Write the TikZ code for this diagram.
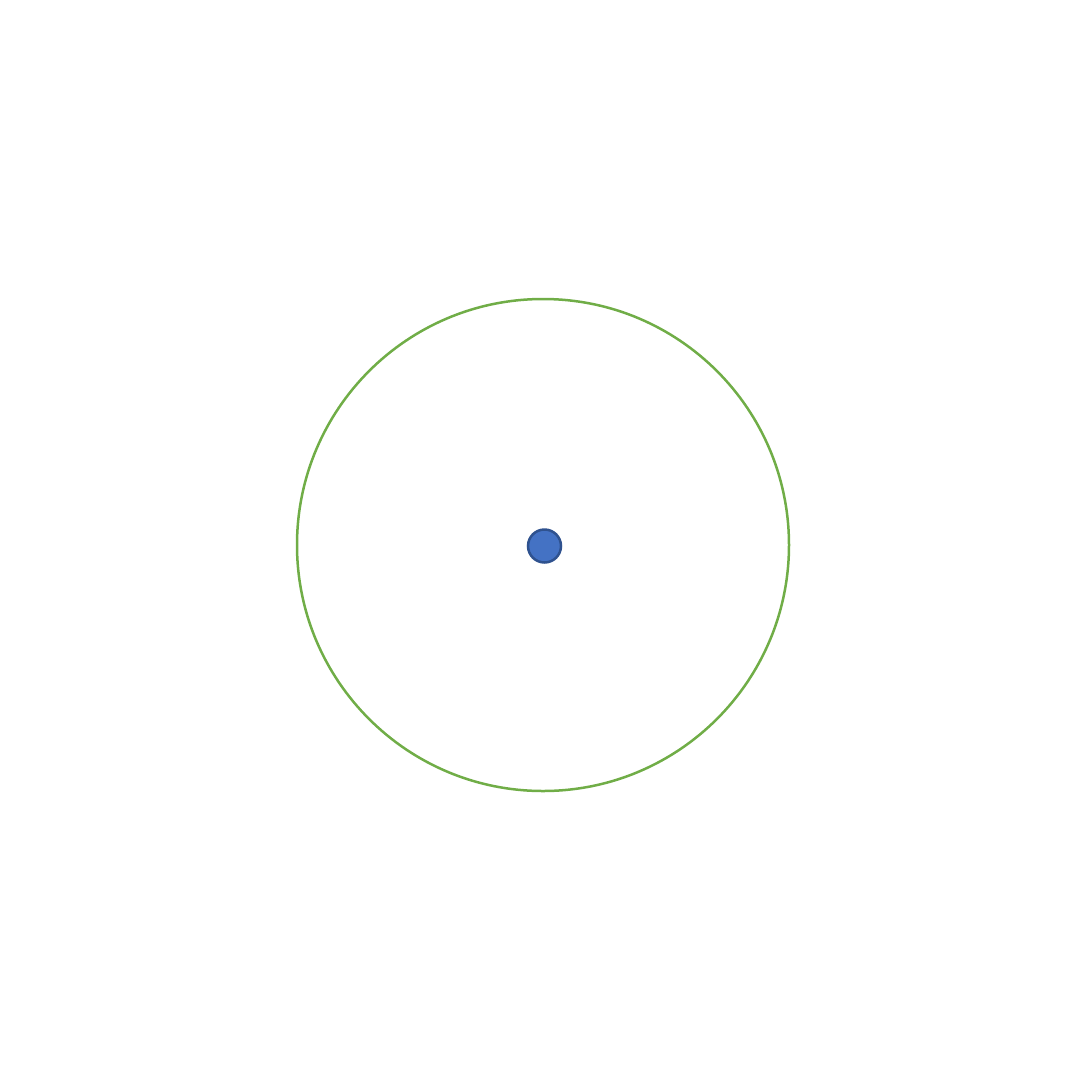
\documentclass[tikz,border=0pt]{standalone}
\definecolor{ringgreen}{HTML}{70AD47}
\definecolor{dotfill}{HTML}{4472C4}
\definecolor{dotedge}{HTML}{2F528F}
\tikzset{
  ring/.style={draw=ringgreen, line width=2.5pt, circle, minimum size=492pt, inner sep=0pt},
  dot/.style={draw=dotedge, fill=dotfill, line width=2.5pt, circle, minimum size=33pt, inner sep=0pt}
}
\begin{document}
\begin{tikzpicture}[x=1pt,y=-1pt]
\useasboundingbox (0,0) rectangle (1088,1088);
\node[ring] (orbit) at (543,545) {};
\node[dot] (center) at (544.5,546) {};
\end{tikzpicture}
\end{document}
